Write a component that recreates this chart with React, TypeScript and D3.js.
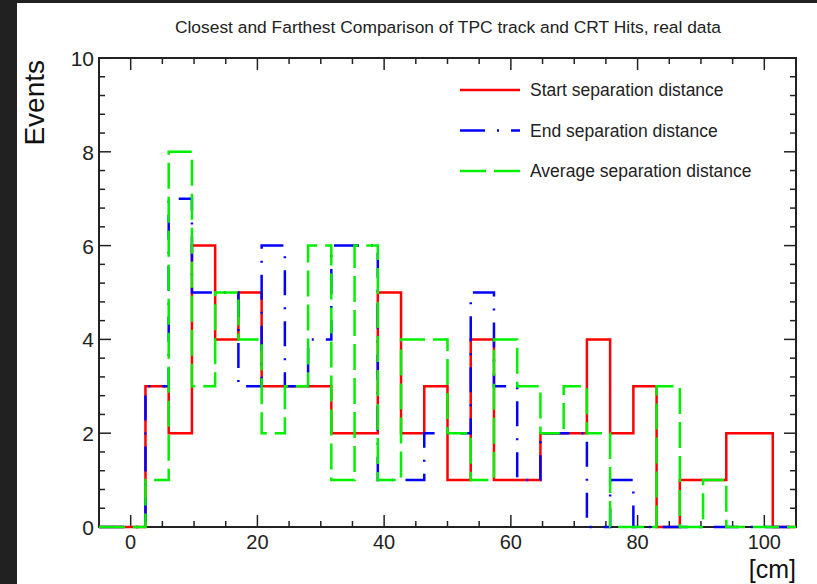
import { useEffect, useRef } from 'react';
import * as d3 from 'd3';

// histogram binning (ROOT TH1: 30 bins over [-5, 105])
const nBins = 30;
const xMin = -5;
const xMax = 105;

// bin contents
const startSep = [0, 0, 3, 2, 6, 4, 5, 3, 3, 3, 2, 2, 5, 2, 3, 1, 4, 1, 1, 2, 2, 4, 2, 3, 0, 1, 1, 2, 2, 0];
const endSep = [0, 0, 3, 7, 5, 5, 3, 6, 3, 4, 6, 6, 1, 1, 2, 2, 5, 3, 1, 2, 2, 0, 1, 0, 0, 0, 0, 0, 0, 0];
const avgSep = [0, 0, 1, 8, 3, 5, 4, 2, 3, 6, 1, 6, 1, 4, 4, 2, 1, 4, 3, 2, 3, 2, 0, 0, 3, 0, 1, 0, 0, 0];

const seriesNames = ['Start separation distance', 'End separation distance', 'Average separation distance'];

const xTickValues = [0, 20, 40, 60, 80, 100];
const yTickValues = [0, 2, 4, 6, 8, 10];

const title = 'Closest and Farthest Comparison of TPC track and CRT Hits, real data';

const App = () => {
  const svgRef = useRef<SVGSVGElement>(null);

  useEffect(() => {
    const svg = d3.select(svgRef.current);
    svg.selectAll('*').remove();

    const W = 817;
    const H = 584;
    const frame = { left: 99, right: 796, top: 58, bottom: 527 };
    const font = '"Liberation Sans", Arial, Helvetica, sans-serif';

    // background + dark screenshot border
    svg.append('rect').attr('width', W).attr('height', H).attr('fill', '#fff');
    svg.append('rect').attr('width', 17).attr('height', H).attr('fill', '#212121');
    svg.append('rect').attr('width', W).attr('height', 3).attr('fill', '#212121');

    const x = d3.scaleLinear().domain([xMin, xMax]).range([frame.left, frame.right]);
    const y = d3.scaleLinear().domain([0, 10]).range([frame.bottom, frame.top]);

    // frame
    svg
      .append('rect')
      .attr('x', frame.left)
      .attr('y', frame.top)
      .attr('width', frame.right - frame.left)
      .attr('height', frame.bottom - frame.top)
      .attr('fill', 'none')
      .attr('stroke', '#222')
      .attr('stroke-width', 2);

    const ticks = svg.append('g').attr('stroke', '#222').attr('stroke-width', 1.5);

    // x ticks (bottom + top)
    const xMinor = d3.range(0, 101, 5);
    xMinor.forEach((v) => {
      const len = v % 20 === 0 ? 12 : 6;
      ticks.append('line').attr('x1', x(v)).attr('x2', x(v)).attr('y1', frame.bottom).attr('y2', frame.bottom - len);
      ticks.append('line').attr('x1', x(v)).attr('x2', x(v)).attr('y1', frame.top).attr('y2', frame.top + len);
    });

    // y ticks (left + right)
    const yMinor = d3.range(0, 10.01, 0.4);
    yMinor.forEach((v) => {
      const major = Math.abs(v / 2 - Math.round(v / 2)) < 1e-6;
      const len = major ? 12 : 6;
      ticks.append('line').attr('x1', frame.left).attr('x2', frame.left + len).attr('y1', y(v)).attr('y2', y(v));
      ticks.append('line').attr('x1', frame.right).attr('x2', frame.right - len).attr('y1', y(v)).attr('y2', y(v));
    });

    const binW = (xMax - xMin) / nBins;
    const stepPoints = (vals: number[]) => {
      const pts: [number, number][] = [];
      vals.forEach((v, i) => {
        pts.push([xMin + i * binW, v]);
        pts.push([xMin + (i + 1) * binW, v]);
      });
      return pts;
    };

    const line = d3
      .line<[number, number]>()
      .x((d) => x(d[0]))
      .y((d) => y(d[1]));

    const series = [
      { vals: startSep, color: '#ff0000', dash: null },
      { vals: endSep, color: '#0000ff', dash: '25 12 2 12' },
      { vals: avgSep, color: '#00f000', dash: '26 8' },
    ];

    // histograms drawn over the frame, as ROOT does
    series.forEach((s) => {
      svg
        .append('path')
        .datum(stepPoints(s.vals))
        .attr('fill', 'none')
        .attr('stroke', s.color)
        .attr('stroke-width', 2.5)
        .attr('stroke-dasharray', s.dash)
        .attr('d', line);
    });

    // tick labels
    svg
      .append('g')
      .selectAll('text')
      .data(xTickValues)
      .join('text')
      .attr('x', (d) => x(d))
      .attr('y', 549)
      .attr('text-anchor', 'middle')
      .attr('font-family', font)
      .attr('font-size', 20)
      .attr('fill', '#222')
      .text((d) => d);

    svg
      .append('g')
      .selectAll('text')
      .data(yTickValues)
      .join('text')
      .attr('x', 94)
      .attr('y', (d) => y(d) + 8)
      .attr('text-anchor', 'end')
      .attr('font-family', font)
      .attr('font-size', 21)
      .attr('fill', '#222')
      .text((d) => d);

    // axis titles
    svg
      .append('text')
      .attr('transform', `translate(44, ${frame.top + 2}) rotate(-90)`)
      .attr('text-anchor', 'end')
      .attr('font-family', font)
      .attr('font-size', 28)
      .attr('fill', '#111')
      .text('Events');

    svg
      .append('text')
      .attr('x', frame.right)
      .attr('y', 578)
      .attr('text-anchor', 'end')
      .attr('font-family', font)
      .attr('font-size', 25)
      .attr('fill', '#111')
      .text('[cm]');

    // title
    svg
      .append('text')
      .attr('x', 448)
      .attr('y', 33)
      .attr('text-anchor', 'middle')
      .attr('font-family', font)
      .attr('font-size', 17.4)
      .attr('fill', '#222')
      .text(title);

    // legend
    const legend = svg.append('g').attr('transform', 'translate(460, 90)');
    series.forEach((s, i) => {
      const row = legend.append('g').attr('transform', `translate(0, ${i * 40.5})`);
      row
        .append('line')
        .attr('x1', 0)
        .attr('x2', 60)
        .attr('stroke', s.color)
        .attr('stroke-width', 2.5)
        .attr('stroke-dasharray', s.dash);
      row
        .append('text')
        .attr('x', 70)
        .attr('y', 6)
        .attr('font-family', font)
        .attr('font-size', 17.5)
        .attr('fill', '#222')
        .text(seriesNames[i]);
    });
  }, []);

  return (
    <svg
      ref={svgRef}
      width={817}
      height={584}
      style={{ position: 'absolute', left: 0, top: 0, display: 'block' }}
    ></svg>
  );
};

export default App;
